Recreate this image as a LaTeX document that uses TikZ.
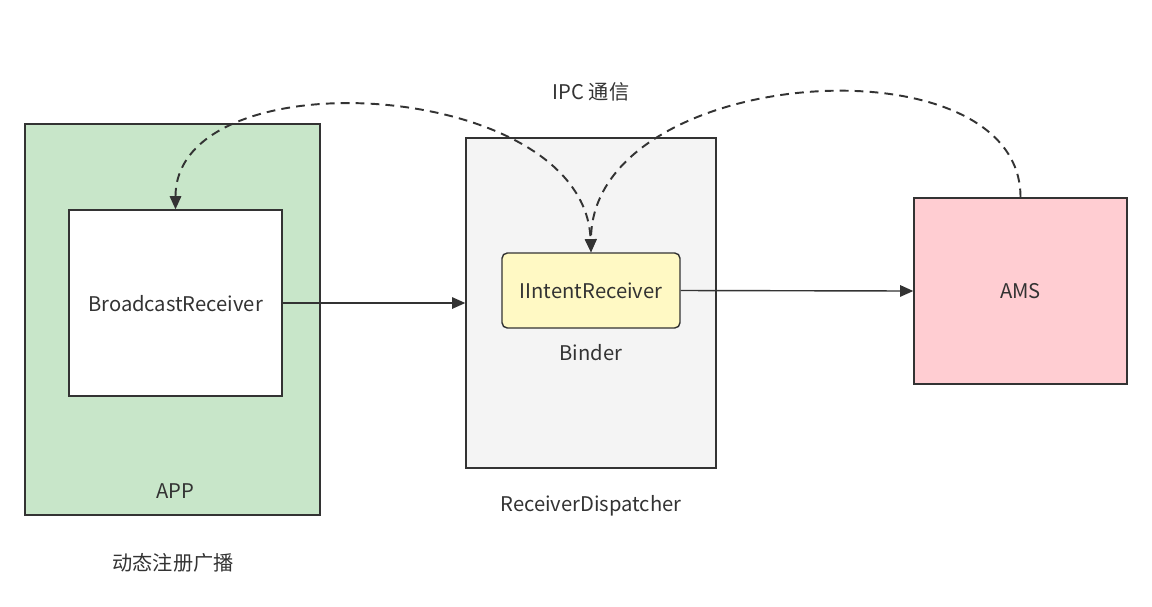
\documentclass[tikz,border=0pt]{standalone}
\usepackage{fontspec}
\setmainfont{Noto Sans CJK SC}
\usetikzlibrary{positioning,arrows.meta}
\definecolor{appgreen}{HTML}{C8E6C9}
\definecolor{dispgray}{HTML}{F4F4F4}
\definecolor{binderyellow}{HTML}{FFF9C4}
\definecolor{amspink}{HTML}{FFCDD2}
\definecolor{linegray}{HTML}{333333}

\begin{document}
\begin{tikzpicture}[x=0.02cm,y=-0.02cm,
box/.style={draw=linegray,line width=0.8pt,inner sep=0pt,text=linegray,font=\fontsize{11.5}{13}\selectfont},
lbl/.style={text=linegray,font=\fontsize{11.5}{13}\selectfont,inner sep=0pt},
link/.style={draw=linegray,line width=0.8pt,-{Triangle[length=7.5pt,width=6.5pt]}},
ipc/.style={link,line width=1.1pt,dash pattern=on 5pt off 3.5pt}]
\useasboundingbox (0,0) rectangle (1152,606);

\node (App) [box,fill=appgreen,minimum width=5.9cm,minimum height=7.82cm] at (172.5,319.5) {};
\node (Receiver) [box,fill=white,minimum width=4.26cm,minimum height=3.72cm,text depth=-2pt] at (175.5,303) {BroadcastReceiver};
\node (Dispatcher) [box,fill=dispgray,minimum width=5cm,minimum height=6.6cm] at (591,303) {};
\node (Intent) [box,fill=binderyellow,rounded corners=3pt,minimum width=3.56cm,minimum height=1.5cm,text depth=-2pt] at (591,290.5) {IIntentReceiver};
\node (Ams) [box,fill=amspink,minimum width=4.26cm,minimum height=3.72cm,text depth=-2pt] at (1020.5,291) {AMS};

\node (AppLbl) [lbl] at (175,491) {APP};
\node (BinderLbl) [lbl] at (591,353) {Binder};
\node (DispLbl) [lbl] at (591,506) {ReceiverDispatcher};
\node (DynLbl) [lbl] at (173,563) {动态注册广播};
\node (IpcLbl) [lbl] at (591,92) {IPC 通信};

\draw [link] (Receiver.east) -- (Dispatcher.west);
\draw [link] (Intent.east) -- (Ams.west);
% IPC
\draw [ipc,{Triangle[length=7.5pt,width=6.5pt]}-{Triangle[length=7.5pt,width=6.5pt]}] (Receiver.north) .. controls (175.5,55) and (585,78) .. (Intent.north);
\draw [ipc] (Ams.north) .. controls (1021,35) and (591,65) .. (Intent.north);

\end{tikzpicture}
\end{document}
